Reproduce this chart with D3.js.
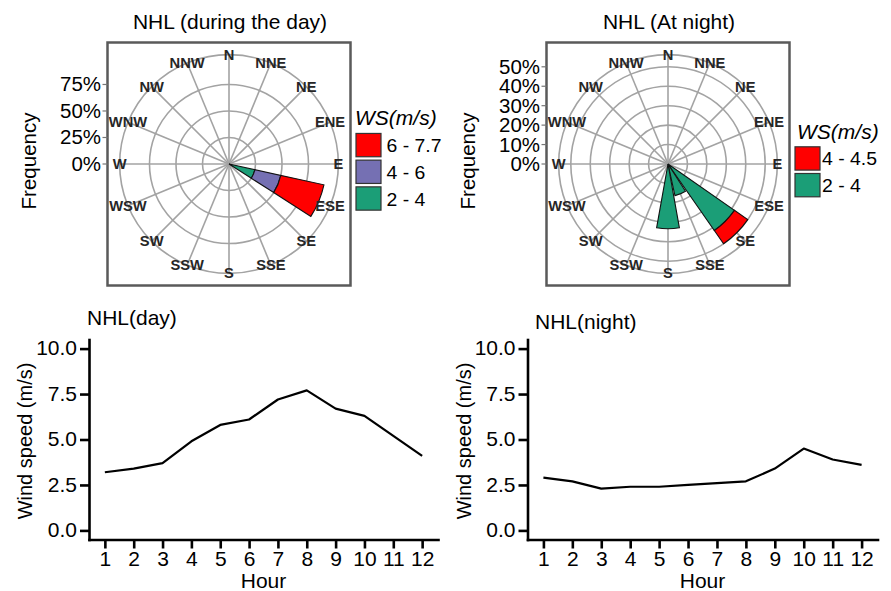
<!DOCTYPE html>
<html>
<head>
<meta charset="utf-8">
<script src="https://cdn.jsdelivr.net/npm/d3@7"></script>
<style>
  body { margin: 0; background: #fff; }
  svg { display: block; font-family: "Liberation Sans", Arial, sans-serif; }
</style>
</head>
<body>
<svg id="chart" width="891" height="591"></svg>
<script>
// ---- data -------------------------------------------------------------
// 16 compass sectors, clockwise from north
const directions = ["N","NNE","NE","ENE","E","ESE","SE","SSE","S","SSW","SW","WSW","W","WNW","NW","NNW"];

// Wind rose, daytime: frequency (%) per sector and speed class
const dayRoseDirs   = ["ESE"];
const dayRose2to4   = [25];
const dayRose4to6   = [25];
const dayRose6to77  = [41.67];
const dayClasses    = ["2 - 4", "4 - 6", "6 - 7.7"];
const dayColors     = ["#1B9E77", "#7570B3", "#FF0000"];
const dayRoseTicks  = [0, 25, 50, 75];

// Wind rose, night: frequency (%) per sector and speed class
const nightRoseDirs  = ["SE", "SSE", "S"];
const nightRose2to4  = [41.67, 16.67, 33.33];
const nightRose4to45 = [8.33, 0, 0];
const nightClasses   = ["2 - 4", "4 - 4.5"];
const nightColors    = ["#1B9E77", "#FF0000"];
const nightRoseTicks = [0, 10, 20, 30, 40, 50];

// Hourly mean wind speed (m/s)
const hours      = [1, 2, 3, 4, 5, 6, 7, 8, 9, 10, 11, 12];
const dayWind    = [3.2, 3.4, 3.7, 4.9, 5.8, 6.1, 7.2, 7.7, 6.7, 6.3, 5.2, 4.1];
const nightWind  = [2.9, 2.7, 2.3, 2.4, 2.4, 2.5, 2.6, 2.7, 3.4, 4.5, 3.9, 3.6];
const windTicks  = [0, 2.5, 5, 7.5, 10];

// ---- helpers ----------------------------------------------------------
const SX = 1.05;          // horizontal text widening
const svg = d3.select("#chart");

function label(g, x, y, str, o = {}) {
  return g.append("text")
    .attr("transform", `translate(${x},${y}) scale(${SX},1)`)
    .attr("text-anchor", o.anchor || "start")
    .attr("fill", o.fill || "#000")
    .style("font-size", (o.size || 20) + "px")
    .style("font-weight", o.weight || "normal")
    .style("font-style", o.italic ? "italic" : "normal")
    .text(str);
}

function vlabel(g, x, y, str, size) {
  return g.append("text")
    .attr("transform", `translate(${x},${y}) rotate(-90)`)
    .attr("text-anchor", "middle")
    .style("font-size", size + "px")
    .text(str);
}

// ---- wind rose ---------------------------------------------------------
function drawRose(cfg) {
  const g = svg.append("g");
  const { x0, y0, size } = cfg;
  const cx = x0 + size / 2, cy = y0 + size / 2;

  // stacked frequencies per sector
  const rows = cfg.dirs.map((d, i) => {
    const row = { dir: d };
    cfg.classes.forEach((c, k) => { row[c] = cfg.series[k][i]; });
    return row;
  });
  const stacked = d3.stack().keys(cfg.classes)(rows);
  const rMax = d3.max(stacked[stacked.length - 1], d => d[1]);

  const r = d3.scaleLinear().domain([0, rMax]).range([0, 0.4 * size]);
  const outerR = 0.45 * size;
  const step = 2 * Math.PI / directions.length;
  const theta = d3.scaleBand().domain(directions)
    .range([-step / 2, 2 * Math.PI - step / 2])
    .paddingInner(0.1).paddingOuter(0.05);
  const mid = d => theta(d) + theta.bandwidth() / 2;

  const pg = g.append("g").attr("transform", `translate(${cx},${cy})`);

  // grid: rings at r ticks + outer ring, spokes per sector
  const rings = cfg.ticks.filter(t => t > 0).map(t => r(t)).concat([outerR]);
  pg.selectAll("circle.ring").data(rings).join("circle")
    .attr("r", d => d).attr("fill", "none")
    .attr("stroke", "#a3a3a3").attr("stroke-width", 1.6);
  pg.selectAll("line.spoke").data(directions).join("line")
    .attr("x1", 0).attr("y1", 0)
    .attr("x2", d => outerR * Math.sin(mid(d)))
    .attr("y2", d => -outerR * Math.cos(mid(d)))
    .attr("stroke", "#a3a3a3").attr("stroke-width", 1.6);

  // petals
  const arc = d3.arc();
  stacked.forEach((layer, k) => {
    pg.selectAll(null).data(layer.filter(d => d[1] > d[0])).join("path")
      .attr("d", d => arc({
        innerRadius: r(d[0]), outerRadius: r(d[1]),
        startAngle: theta(d.data.dir), endAngle: theta(d.data.dir) + theta.bandwidth()
      }))
      .attr("fill", cfg.colors[k])
      .attr("stroke", "#111").attr("stroke-width", 1.1);
  });

  // direction labels on the outer ring
  directions.forEach(d => {
    label(pg, outerR * Math.sin(mid(d)), -outerR * Math.cos(mid(d)) + 5, d,
      { anchor: "middle", size: 14, weight: "bold", fill: "#262626" });
  });

  // panel border
  g.append("rect").attr("x", x0).attr("y", y0).attr("width", size).attr("height", size)
    .attr("fill", "none").attr("stroke", "#5a5a5a").attr("stroke-width", 2.5);

  // radial axis on the left
  cfg.ticks.forEach(t => {
    const yy = cy - r(t);
    g.append("line").attr("x1", x0 - 5).attr("x2", x0).attr("y1", yy).attr("y2", yy)
      .attr("stroke", "#777").attr("stroke-width", 1.2);
    label(g, x0 - 6.5, yy + 7, t + "%", { anchor: "end", size: 19.5 });
  });
  vlabel(g, x0 - 72, cy - 3, "Frequency", 20.5);

  // title
  label(g, cx + 1, 29, cfg.title, { anchor: "middle", size: 20 });

  // legend (highest class on top)
  const n = cfg.classes.length;
  const keyH = 23.3, keyStep = 26.7;
  const keysTop = cy - 3 - (n * keyStep - 3.4 + 21.6) / 2 + 21.6;
  const lg = g.append("g");
  label(lg, cfg.legendTitleX, keysTop - 8.3, "WS(m/s)", { italic: true, size: 20 });
  cfg.classes.slice().reverse().forEach((c, i) => {
    const k = n - 1 - i;
    lg.append("rect").attr("x", cfg.keyX).attr("y", keysTop + i * keyStep)
      .attr("width", 25).attr("height", keyH)
      .attr("fill", cfg.colors[k]).attr("stroke", "#333").attr("stroke-width", 1.2);
    label(lg, cfg.keyX + cfg.labelGap, keysTop + i * keyStep + keyH / 2 + 7, c, { size: 18.5 });
  });
}

drawRose({
  title: "NHL (during the day)", x0: 107.5, y0: 42.5, size: 243,
  dirs: dayRoseDirs, series: [dayRose2to4, dayRose4to6, dayRose6to77],
  classes: dayClasses, colors: dayColors, ticks: dayRoseTicks,
  keyX: 356, labelGap: 30.5, legendTitleX: 355
});
drawRose({
  title: "NHL (At night)", x0: 546.5, y0: 42.5, size: 243,
  dirs: nightRoseDirs, series: [nightRose2to4, nightRose4to45],
  classes: nightClasses, colors: nightColors, ticks: nightRoseTicks,
  keyX: 795, labelGap: 27, legendTitleX: 797
});

// ---- hourly wind speed lines -------------------------------------------
function drawLine(cfg) {
  const g = svg.append("g");
  const xExt = d3.extent(hours), xPad = (xExt[1] - xExt[0]) * 0.05;
  const yExt = d3.extent(windTicks), yPad = (yExt[1] - yExt[0]) * 0.05;
  const x = d3.scaleLinear().domain([xExt[0] - xPad, xExt[1] + xPad]).range([cfg.left, cfg.right]);
  const y = d3.scaleLinear().domain([yExt[0] - yPad, yExt[1] + yPad]).range([539.5, 339.5]);

  const ya = g.append("g").attr("transform", `translate(${cfg.left},0)`)
    .call(d3.axisLeft(y).tickValues(windTicks).tickFormat(d3.format(".1f"))
      .tickSize(9).tickSizeOuter(0));
  const xa = g.append("g").attr("transform", `translate(0,539.5)`)
    .call(d3.axisBottom(x).tickValues(hours).tickFormat(d3.format("d"))
      .tickSize(9).tickSizeOuter(0));

  [ya, xa].forEach(a => {
    a.select(".domain").attr("stroke", "#000").attr("stroke-width", 2.6).attr("stroke-linecap", "square");
    a.selectAll(".tick line").attr("stroke", "#000").attr("stroke-width", 2.6);
    a.selectAll(".tick text").attr("fill", "#000")
      .style("font-size", "20px").style("font-family", "'Liberation Sans', Arial, sans-serif")
      .attr("transform", `scale(${SX},1)`);
  });
  ya.selectAll(".tick text").attr("x", -12 / SX);
  xa.selectAll(".tick text").attr("y", 12);

  g.append("path").datum(hours.map((h, i) => [h, cfg.values[i]]))
    .attr("d", d3.line().x(d => x(d[0])).y(d => y(d[1])))
    .attr("fill", "none").attr("stroke", "#000").attr("stroke-width", 2.2)
    .attr("stroke-linejoin", "round");

  label(g, cfg.titleX, cfg.titleY, cfg.title, { size: 20 });
  label(g, (cfg.left + cfg.right) / 2, 588, "Hour", { anchor: "middle", size: 20 });
  vlabel(g, cfg.left - 57, 441, "Wind speed (m/s)", 20);
}

drawLine({ title: "NHL(day)", values: dayWind, left: 89, right: 438, titleX: 87, titleY: 325 });
drawLine({ title: "NHL(night)", values: nightWind, left: 527.5, right: 877.5, titleX: 535, titleY: 329 });
</script>
</body>
</html>
